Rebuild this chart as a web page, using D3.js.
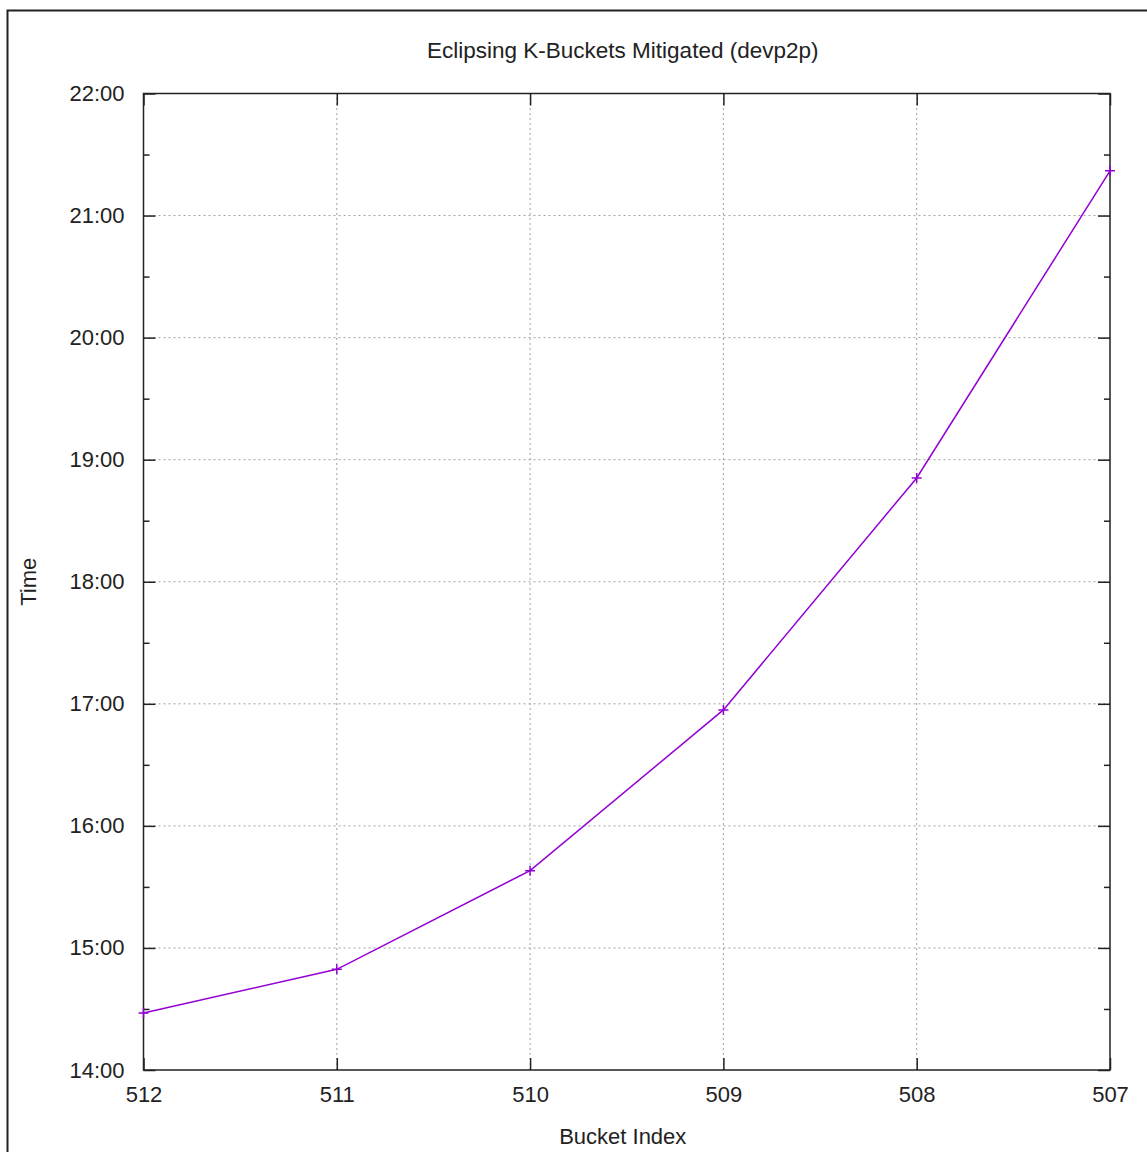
<!DOCTYPE html>
<html>
<head>
<meta charset="utf-8">
<script src="https://cdn.jsdelivr.net/npm/d3@7"></script>
<style>
  body { margin: 0; background: #fff; }
  text { font-family: "Liberation Sans", Arial, sans-serif; fill: #222; }
</style>
</head>
<body>
<div id="chart"></div>
<script>
// data: bucket index vs time (minutes since midnight)
const buckets = [512, 511, 510, 509, 508, 507];
const times = [868, 889.5, 938, 1017, 1131, 1282];
const yTicks = [840, 900, 960, 1020, 1080, 1140, 1200, 1260, 1320];
const yMinorTicks = [870, 930, 990, 1050, 1110, 1170, 1230, 1290];

const TITLE = "Eclipsing K-Buckets Mitigated (devp2p)";
const X_LABEL = "Bucket Index";
const Y_LABEL = "Time";

const W = 1147, H = 1152;
const MARGIN = { top: 93.5, right: 37, bottom: 82, left: 143.5 };
const LINE_COLOR = "#9400d3";
const FONT_SIZE = 22;

const svg = d3.select("#chart").append("svg")
  .attr("width", W)
  .attr("height", H);

// outer frame
svg.append("rect")
  .attr("x", 7.5).attr("y", 10.5)
  .attr("width", W + 20).attr("height", H + 20)
  .attr("fill", "none").attr("stroke", "#222").attr("stroke-width", 2);

const x = d3.scaleLinear()
  .domain([512, 507])
  .range([MARGIN.left, W - MARGIN.right]);
const y = d3.scaleLinear()
  .domain([840, 1320])
  .range([H - MARGIN.bottom, MARGIN.top]);

const fmt = (m) => String(Math.floor(m / 60)).padStart(2, "0") + ":" + String(m % 60).padStart(2, "0");

const x0 = x.range()[0], x1 = x.range()[1];
const y0 = y.range()[0], y1 = y.range()[1];

// grid
const grid = svg.append("g")
  .attr("stroke", "#a0a0a0")
  .attr("stroke-width", 1)
  .attr("stroke-dasharray", "2,3");
grid.selectAll(".gx").data(buckets.slice(1, -1)).join("line")
  .attr("x1", (d) => x(d)).attr("x2", (d) => x(d))
  .attr("y1", y0).attr("y2", y1);
grid.selectAll(".gy").data(yTicks.slice(1, -1)).join("line")
  .attr("x1", x0).attr("x2", x1)
  .attr("y1", (d) => y(d)).attr("y2", (d) => y(d));

// axes: ticks inward on all four sides
const TICK = 12, MINOR = 6;
svg.append("g")
  .attr("transform", `translate(0,${y0})`)
  .call(d3.axisBottom(x).tickValues(buckets).tickSize(-TICK).tickPadding(16).tickFormat(d3.format("d")))
  .call((g) => g.select(".domain").remove());
svg.append("g")
  .attr("transform", `translate(0,${y1})`)
  .call(d3.axisTop(x).tickValues(buckets).tickSize(-TICK).tickFormat(""))
  .call((g) => g.select(".domain").remove());
svg.append("g")
  .attr("transform", `translate(${x0},0)`)
  .call(d3.axisLeft(y).tickValues(yTicks).tickSize(-TICK).tickPadding(19).tickFormat(fmt))
  .call((g) => g.select(".domain").remove());
svg.append("g")
  .attr("transform", `translate(${x0},0)`)
  .call(d3.axisLeft(y).tickValues(yMinorTicks).tickSize(-MINOR).tickFormat(""))
  .call((g) => g.select(".domain").remove());
svg.append("g")
  .attr("transform", `translate(${x1},0)`)
  .call(d3.axisRight(y).tickValues(yTicks).tickSize(-TICK).tickFormat(""))
  .call((g) => g.select(".domain").remove());
svg.append("g")
  .attr("transform", `translate(${x1},0)`)
  .call(d3.axisRight(y).tickValues(yMinorTicks).tickSize(-MINOR).tickFormat(""))
  .call((g) => g.select(".domain").remove());

svg.selectAll(".tick line").attr("stroke", "#222").attr("stroke-width", 1.5);
svg.selectAll(".tick text")
  .attr("font-size", FONT_SIZE)
  .attr("font-family", "Liberation Sans, Arial, sans-serif")
  .attr("fill", "#222");

// plot frame
svg.append("rect")
  .attr("x", x0).attr("y", y1)
  .attr("width", x1 - x0).attr("height", y0 - y1)
  .attr("fill", "none").attr("stroke", "#222").attr("stroke-width", 1.5);

// series
const pts = buckets.map((b, i) => [b, times[i]]);
svg.append("path")
  .datum(pts)
  .attr("fill", "none")
  .attr("stroke", LINE_COLOR)
  .attr("stroke-width", 1.5)
  .attr("d", d3.line().x((d) => x(d[0])).y((d) => y(d[1])));
const P = 5;
svg.append("g").selectAll("path").data(pts).join("path")
  .attr("stroke", LINE_COLOR)
  .attr("stroke-width", 1.5)
  .attr("d", (d) => {
    const cx = x(d[0]), cy = y(d[1]);
    return `M${cx - P},${cy}H${cx + P}M${cx},${cy - P}V${cy + P}`;
  });

// labels
svg.append("text")
  .attr("x", (x0 + x1) / 2 - 4).attr("y", 58)
  .attr("text-anchor", "middle")
  .attr("font-size", 22.5)
  .text(TITLE);
svg.append("text")
  .attr("x", (x0 + x1) / 2 - 4).attr("y", 1144)
  .attr("text-anchor", "middle")
  .attr("font-size", FONT_SIZE)
  .text(X_LABEL);
svg.append("text")
  .attr("transform", `translate(36,${(y0 + y1) / 2}) rotate(-90)`)
  .attr("text-anchor", "middle")
  .attr("font-size", FONT_SIZE)
  .text(Y_LABEL);
</script>
</body>
</html>
